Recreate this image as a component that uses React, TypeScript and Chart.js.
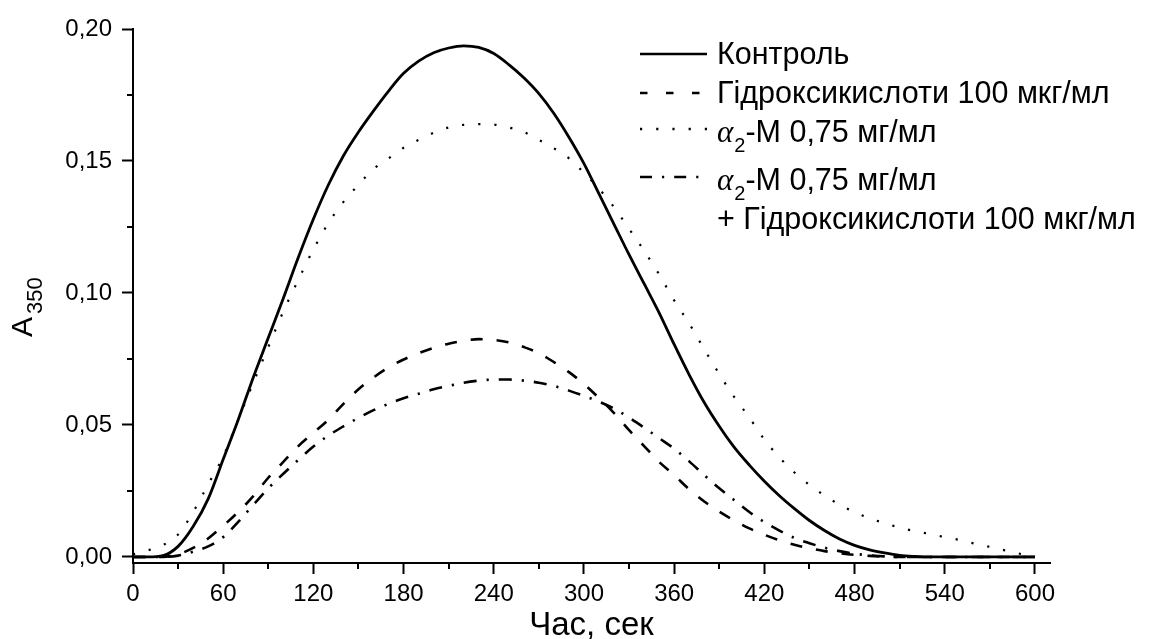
import React, { useEffect, useRef } from "react";
import { Chart, registerables } from "chart.js";

Chart.register(...registerables);

// ---- data ----
const timeSec = [
  0, 10, 20, 30, 40, 50, 60, 70, 80, 90, 100, 110, 120, 130, 140, 150, 160, 170, 180, 190,
  200, 210, 220, 230, 240, 250, 260, 270, 280, 290, 300, 310, 320, 330, 340, 350, 360, 370, 380, 390,
  400, 410, 420, 430, 440, 450, 460, 470, 480, 490, 500, 510, 520, 530, 540, 550, 560, 570, 580, 590, 600,
];

const control = [
  0, 0, 0.0005, 0.004, 0.0115, 0.022, 0.037, 0.052, 0.068, 0.083, 0.098, 0.1135, 0.128, 0.141, 0.152, 0.161, 0.169, 0.1765, 0.1832, 0.1878,
  0.191, 0.1928, 0.1936, 0.193, 0.1907, 0.1865, 0.1815, 0.1755, 0.168, 0.159, 0.149, 0.1375, 0.126, 0.1145, 0.1035, 0.0925, 0.0805, 0.069, 0.0585, 0.0495,
  0.0415, 0.0348, 0.0287, 0.0232, 0.0183, 0.0138, 0.01, 0.0068, 0.0044, 0.0027, 0.0015, 0.0006, 0.0002, 0, 0, 0, 0, 0, 0, 0, 0,
];

const hydroxyAcids = [
  0, 0, 0, 0.001, 0.0034, 0.007, 0.0118, 0.017, 0.023, 0.03, 0.036, 0.042, 0.047, 0.052, 0.058, 0.0635, 0.068, 0.0718, 0.0748, 0.0772,
  0.0792, 0.0808, 0.0819, 0.0825, 0.0822, 0.0813, 0.0795, 0.0772, 0.0738, 0.07, 0.0655, 0.0602, 0.0545, 0.048, 0.042, 0.036, 0.031, 0.0256, 0.021, 0.0172,
  0.0138, 0.0108, 0.0084, 0.0063, 0.0046, 0.0033, 0.0022, 0.0014, 0.0008, 0.0004, 0.0001, 0, 0, 0, 0, 0, 0, 0, 0, 0, 0,
];

const alpha2M = [
  0.001, 0.0025, 0.0045, 0.0085, 0.017, 0.0275, 0.038, 0.052, 0.066, 0.0795, 0.093, 0.105, 0.1165, 0.1265, 0.1345, 0.141, 0.147, 0.151, 0.155, 0.158,
  0.1607, 0.1627, 0.1637, 0.164, 0.1638, 0.1627, 0.161, 0.158, 0.1548, 0.151, 0.1455, 0.1395, 0.1325, 0.1243, 0.116, 0.107, 0.0972, 0.0884, 0.0787, 0.0693,
  0.0605, 0.0528, 0.0445, 0.0377, 0.032, 0.0273, 0.0233, 0.0198, 0.017, 0.0146, 0.0128, 0.0111, 0.0098, 0.0087, 0.0075, 0.0064, 0.005, 0.0038, 0.0025, 0.0012, 0.0002,
];

const alpha2MHydroxy = [
  0, 0, 0, 0.0005, 0.002, 0.004, 0.0075, 0.0133, 0.0197, 0.026, 0.0315, 0.0368, 0.0418, 0.046, 0.0495, 0.0527, 0.0556, 0.058, 0.0601, 0.0618,
  0.0635, 0.0648, 0.066, 0.0668, 0.0672, 0.0672, 0.0668, 0.066, 0.0648, 0.063, 0.061, 0.0588, 0.0562, 0.0528, 0.049, 0.045, 0.041, 0.0362, 0.031, 0.026,
  0.0215, 0.017, 0.0132, 0.01, 0.0072, 0.0052, 0.0035, 0.0022, 0.0012, 0.0006, 0.0002, 0, 0, 0, 0, 0, 0, 0, 0, 0, 0,
];

const xMajorTicks = [0, 60, 120, 180, 240, 300, 360, 420, 480, 540, 600];
const xMinorTicks = [30, 90, 150, 210, 270, 330, 390, 450, 510, 570];
const yMajorTicks = [0, 0.05, 0.1, 0.15, 0.2];
const yMajorLabels = ["0,00", "0,05", "0,10", "0,15", "0,20"];
const yMinorTicks = [0.025, 0.075, 0.125, 0.175];

const xTitle = "Час, сек";
const yTitleMain = "A";
const yTitleSub = "350";

const legendControl = "Контроль";
const legendHydroxy = "Гідроксикислоти 100 мкг/мл";
const legendAlphaTail = "-М 0,75 мг/мл";
const legendPlusHydroxy = "+ Гідроксикислоти 100 мкг/мл";

const SANS = "'Liberation Sans', Arial, sans-serif";
const SERIF = "'Liberation Serif', 'Times New Roman', serif";

const DASH = [12, 14];
const DOT = [2.2, 14];
const DASHDOT = [13, 10, 2.2, 10];

function pairs(ys: number[]) {
  return timeSec.map((t, i) => ({ x: t, y: ys[i] }));
}

const isXMajor = (v: number) => xMajorTicks.indexOf(v) >= 0;
const yMajorIndex = (v: number) => yMajorTicks.findIndex((m) => Math.abs(m - v) < 1e-9);

const decorPlugin = {
  id: "decor",
  afterDraw(chart: any) {
    const ctx = chart.ctx as CanvasRenderingContext2D;
    const xs = chart.scales.x;
    const ys = chart.scales.y;
    const area = chart.chartArea;
    ctx.save();
    // minor ticks
    ctx.strokeStyle = "#000";
    ctx.lineWidth = 2;
    ctx.beginPath();
    xMinorTicks.forEach((v) => {
      const px = Math.round(xs.getPixelForValue(v));
      ctx.moveTo(px, area.bottom);
      ctx.lineTo(px, area.bottom + 6);
    });
    yMinorTicks.forEach((v) => {
      const py = Math.round(ys.getPixelForValue(v));
      ctx.moveTo(area.left - 6, py);
      ctx.lineTo(area.left, py);
    });
    ctx.stroke();

    ctx.fillStyle = "#000";
    // x title
    ctx.font = `33px ${SANS}`;
    ctx.textAlign = "center";
    ctx.textBaseline = "alphabetic";
    ctx.fillText(xTitle, (area.left + area.right) / 2, 635);

    // y title rotated with subscript
    ctx.save();
    ctx.translate(32, 337);
    ctx.rotate(-Math.PI / 2);
    ctx.textAlign = "left";
    ctx.font = `30px ${SANS}`;
    ctx.fillText(yTitleMain, 0, 0);
    const aw = ctx.measureText(yTitleMain).width;
    ctx.font = `22px ${SANS}`;
    ctx.fillText(yTitleSub, aw + 3, 10);
    ctx.restore();

    // legend
    const x0 = 640;
    const x1 = 707;
    const tx = 717;
    const drawSample = (y: number, dash: number[]) => {
      ctx.beginPath();
      ctx.setLineDash(dash);
      ctx.lineWidth = 2.6;
      ctx.moveTo(x0, y);
      ctx.lineTo(x1, y);
      ctx.stroke();
      ctx.setLineDash([]);
    };
    drawSample(54, []);
    drawSample(93, [7.5, 18.5]);
    drawSample(129, DOT);
    drawSample(177, [12, 10, 2.2, 10]);

    const LF = `30.5px ${SANS}`;
    ctx.textAlign = "left";
    ctx.font = LF;
    ctx.fillText(legendControl, tx, 64);
    ctx.fillText(legendHydroxy, tx, 103);
    const drawAlpha = (baseline: number) => {
      ctx.font = `italic 31px ${SERIF}`;
      ctx.fillText("α", tx, baseline);
      let w = ctx.measureText("α").width;
      ctx.font = `20px ${SANS}`;
      ctx.fillText("2", tx + w + 1, baseline + 10);
      w += ctx.measureText("2").width + 1;
      ctx.font = LF;
      ctx.fillText(legendAlphaTail, tx + w, baseline);
    };
    drawAlpha(142);
    drawAlpha(190);
    ctx.font = LF;
    ctx.fillText(legendPlusHydroxy, tx, 229);
    ctx.restore();
  },
};

export default function App() {
  const ref = useRef<HTMLCanvasElement | null>(null);

  useEffect(() => {
    if (!ref.current) return;
    const common = {
      borderColor: "#000",
      backgroundColor: "#000",
      borderWidth: 2.6,
      pointRadius: 0,
      fill: false,
      cubicInterpolationMode: "monotone" as const,
      borderCapStyle: "butt" as const,
    };
    const chart = new Chart(ref.current, {
      type: "line",
      data: {
        datasets: [
          { ...common, label: legendControl, data: pairs(control), borderWidth: 2.8 },
          { ...common, label: legendHydroxy, data: pairs(hydroxyAcids), borderDash: DASH },
          { ...common, label: "α2-М 0,75 мг/мл", data: pairs(alpha2M), borderDash: DOT, borderWidth: 2.2 },
          { ...common, label: "α2-М 0,75 мг/мл + Гідроксикислоти", data: pairs(alpha2MHydroxy), borderDash: DASHDOT },
        ],
      },
      options: {
        responsive: false,
        animation: false,
        devicePixelRatio: 1,
        layout: { padding: { left: 0, top: 29, right: 126, bottom: 0 } },
        plugins: { legend: { display: false }, tooltip: { enabled: false }, title: { display: false } },
        scales: {
          x: {
            type: "linear",
            min: 0,
            max: 610,
            afterBuildTicks: (s: any) => {
              s.ticks = [...xMajorTicks, ...xMinorTicks].sort((a, b) => a - b).map((v) => ({ value: v }));
            },
            afterFit: (s: any) => {
              s.height = 76;
            },
            grid: {
              display: true,
              drawOnChartArea: false,
              drawTicks: true,
              tickLength: 11,
              tickWidth: 2,
              tickColor: (c: any) => (c.tick && isXMajor(c.tick.value) ? "#000" : "rgba(0,0,0,0)"),
            },
            border: { display: true, color: "#000", width: 2 },
            ticks: {
              color: "#000",
              font: { family: SANS, size: 24 },
              padding: 6,
              maxRotation: 0,
              autoSkip: false,
              callback: (v: any) => (isXMajor(Number(v)) ? String(v) : ""),
            },
          },
          y: {
            type: "linear",
            min: -0.0023,
            max: 0.2,
            afterBuildTicks: (s: any) => {
              s.ticks = [...yMajorTicks, ...yMinorTicks].sort((a, b) => a - b).map((v) => ({ value: v }));
            },
            afterFit: (s: any) => {
              s.width = 133;
            },
            grid: {
              display: true,
              drawOnChartArea: false,
              drawTicks: true,
              tickLength: 11,
              tickWidth: 2,
              tickColor: (c: any) => (c.tick && yMajorIndex(c.tick.value) >= 0 ? "#000" : "rgba(0,0,0,0)"),
            },
            border: { display: true, color: "#000", width: 2 },
            ticks: {
              color: "#000",
              font: { family: SANS, size: 24 },
              padding: 10,
              autoSkip: false,
              callback: (v: any) => {
                const i = yMajorIndex(Number(v));
                return i >= 0 ? yMajorLabels[i] : "";
              },
            },
          },
        },
      },
      plugins: [decorPlugin],
    });
    return () => chart.destroy();
  }, []);

  return (
    <div style={{ position: "absolute", left: 0, top: 0, width: 1176, height: 639, background: "#fff" }}>
      <canvas ref={ref} width={1176} height={639} style={{ display: "block", width: 1176, height: 639 }} />
    </div>
  );
}
